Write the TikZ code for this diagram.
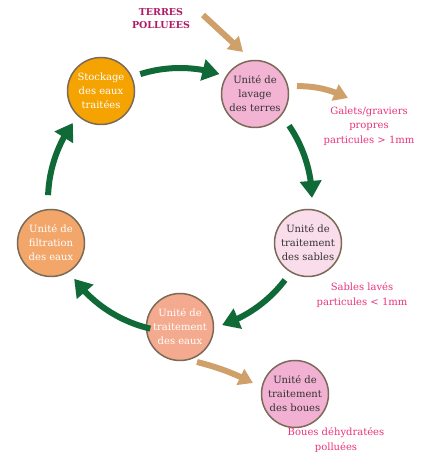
\documentclass[tikz,border=0pt]{standalone}
\usepackage{fontspec}
\setmainfont{DejaVu Serif}
\usetikzlibrary{arrows.meta,bending}
\definecolor{ggreen}{HTML}{0F6A37}
\definecolor{tan}{HTML}{CFA06A}
\definecolor{ringc}{HTML}{7B6A58}
\definecolor{lblpink}{HTML}{E8337A}
\definecolor{lblmag}{HTML}{B01865}
\definecolor{cstock}{HTML}{F5A300}
\definecolor{clav}{HTML}{F3B3D3}
\definecolor{csab}{HTML}{FADDEB}
\definecolor{cfilt}{HTML}{F3A66A}
\definecolor{ceaux}{HTML}{F4AA8E}
\definecolor{cboue}{HTML}{F2B1D2}
\begin{document}
\begin{tikzpicture}[x=1pt,y=1pt,
  unit/.style={circle,draw=ringc,line width=1.5pt,minimum size=67pt,inner sep=0pt,
    align=center,font=\fontsize{10}{14}\selectfont},
  darktxt/.style={text=black!80},
  lighttxt/.style={text=white},
  lbl/.style={align=center,text=lblpink,font=\fontsize{10}{14.5}\selectfont},
  garrow/.style={draw=ggreen,line width=6pt,-{Triangle[length=17pt,width=21pt]}},
  tarrow/.style={draw=tan,line width=6pt,-{Triangle[length=14pt,width=17pt]}}]
\useasboundingbox (0,0) rectangle (425,452);
\node[unit,fill=cstock,lighttxt] (stock) at (101,361) {Stockage\\des eaux\\traitées};
\node[unit,fill=clav,darktxt] (lav) at (255,358) {Unité de\\lavage\\des terres};
\node[unit,fill=csab,darktxt] (sab) at (308,209) {Unité de\\traitement\\des sables};
\node[unit,fill=cfilt,lighttxt] (filt) at (51,209) {Unité de\\filtration\\des eaux};
\node[unit,fill=ceaux,lighttxt] (eaux) at (180,125) {Unité de\\traitement\\des eaux};
\node[unit,fill=cboue,darktxt] (boue) at (295,58) {Unité de\\traitement\\des boues};
\node[align=center,text=lblmag,font=\bfseries\fontsize{9.5}{13}\selectfont] (terres) at (161,433) {TERRES\\POLLUEES};
\node[lbl] (galets) at (369,326) {Galets/graviers\\propres\\particules > 1mm};
\node[lbl] (sables) at (362,157) {Sables lavés\\particules < 1mm};
\node[lbl] (bouesl) at (336,12) {Boues déhydratées\\polluées};
\coordinate (C) at (180,252);
\draw[garrow] ([shift={(107.5:132)}]C) arc[start angle=107.5,end angle=72.6,radius=132];
\draw[garrow] ([shift={(34.3:132)}]C) arc[start angle=34.3,end angle=0.9,radius=132];
\draw[garrow] ([shift={(-37.3:132)}]C) arc[start angle=-37.3,end angle=-71.4,radius=132];
\draw[garrow] ([shift={(-103:132)}]C) arc[start angle=-103,end angle=-143.3,radius=132];
\draw[garrow] ([shift={(177.9:132)}]C) arc[start angle=177.9,end angle=144.3,radius=132];
\coordinate (tin) at (203,437);
\coordinate (tinend) at (243,400);
\coordinate (g1) at (297,366);
\coordinate (g2) at (348,354);
\coordinate (b1) at (197,90);
\coordinate (b2) at (253,69);
\draw[tarrow] (tin) -- (tinend);
\draw[tarrow] (g1) to[bend left=12] (g2);
\draw[tarrow] (b1) to[bend left=6] (b2);
\end{tikzpicture}
\end{document}
